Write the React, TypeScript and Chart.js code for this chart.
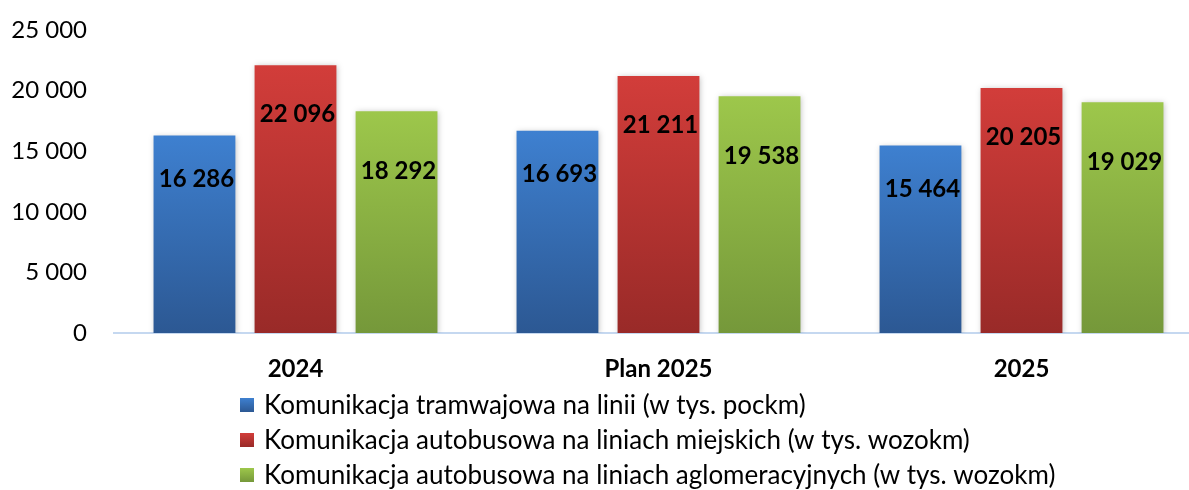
import React, { useEffect, useRef } from 'react';
import { Chart, registerables } from 'chart.js';

Chart.register(...registerables);

const categories = ['2024', 'Plan 2025', '2025'];
const seriesLabels = [
  'Komunikacja tramwajowa na linii (w tys. pockm)',
  'Komunikacja autobusowa na liniach miejskich (w tys. wozokm)',
  'Komunikacja autobusowa na liniach aglomeracyjnych (w tys. wozokm)',
];
const tramValues = [16286, 16693, 15464];
const busCityValues = [22096, 21211, 20205];
const busAggloValues = [18292, 19538, 19029];
const yTickValues = [0, 5000, 10000, 15000, 20000, 25000];

const gradTop = ['#3e80d0', '#d23d3a', '#9dc74b'];
const gradBottom = ['#2c5893', '#992a28', '#75983a'];
const labelOffsets = [44, 49, 60];

const FONT = 'Lato, "Open Sans", sans-serif';

const fmt = (n: number) => String(n).replace(/\B(?=(\d{3})+(?!\d))/g, ' ');

const legendPlugin = {
  id: 'customLegend',
  afterDraw(chart: any) {
    const ctx = chart.ctx;
    const x0 = 240;
    const rows = [405, 440, 475];
    ctx.save();
    ctx.font = `26px ${FONT}`;
    ctx.textBaseline = 'middle';
    ctx.textAlign = 'left';
    chart.data.datasets.forEach((ds: any, i: number) => {
      const y = rows[i];
      const g = ctx.createLinearGradient(0, y - 7, 0, y + 7);
      g.addColorStop(0, gradTop[i]);
      g.addColorStop(1, gradBottom[i]);
      ctx.fillStyle = g;
      ctx.fillRect(x0, y - 7, 14, 14);
      ctx.fillStyle = '#000';
      ctx.fillText(ds.label, x0 + 24, y + 1);
    });
    ctx.restore();
  },
};

const shadowPlugin = {
  id: 'barShadow',
  beforeDatasetsDraw(chart: any) {
    const ctx = chart.ctx;
    ctx.save();
    ctx.shadowColor = 'rgba(0,0,0,0.25)';
    ctx.shadowBlur = 6;
    ctx.shadowOffsetX = 1;
    ctx.shadowOffsetY = 1;
  },
  afterDatasetsDraw(chart: any) {
    chart.ctx.restore();
  },
};

const valueLabelPlugin = {
  id: 'valueLabels',
  afterDatasetsDraw(chart: any) {
    const ctx = chart.ctx;
    ctx.save();
    ctx.font = `bold 24px ${FONT}`;
    ctx.textAlign = 'center';
    ctx.textBaseline = 'middle';
    ctx.fillStyle = '#000';
    chart.data.datasets.forEach((ds: any, di: number) => {
      const meta = chart.getDatasetMeta(di);
      meta.data.forEach((el: any, i: number) => {
        ctx.fillText(fmt(ds.data[i]), el.x + 2, el.y + labelOffsets[di]);
      });
    });
    ctx.restore();
  },
};

function makeGradient(di: number) {
  return (c: any) => {
    const chart = c.chart;
    const ys = chart.scales && chart.scales.y;
    if (!ys || c.raw == null) return gradTop[di];
    const top = ys.getPixelForValue(c.raw);
    const bottom = ys.getPixelForValue(0);
    if (!isFinite(top) || !isFinite(bottom) || top === bottom) return gradTop[di];
    const g = chart.ctx.createLinearGradient(0, top, 0, bottom);
    g.addColorStop(0, gradTop[di]);
    g.addColorStop(1, gradBottom[di]);
    return g;
  };
}

export default function App() {
  const ref = useRef<HTMLCanvasElement>(null);
  useEffect(() => {
    document.body.style.margin = '0';
    const allSeries = [tramValues, busCityValues, busAggloValues];
    const chart = new Chart(ref.current!, {
      type: 'bar',
      data: {
        labels: categories,
        datasets: allSeries.map((vals, i) => ({
          label: seriesLabels[i],
          data: vals,
          backgroundColor: makeGradient(i),
          borderWidth: 0,
          categoryPercentage: 0.835,
          barPercentage: 0.81,
        })),
      },
      options: {
        responsive: false,
        animation: false,
        devicePixelRatio: 1,
        layout: { padding: { top: 30, left: 0, right: 0, bottom: 0 } },
        plugins: {
          legend: { display: false },
          tooltip: { enabled: false },
          title: { display: false },
        },
        scales: {
          x: {
            grid: { display: false, drawTicks: false },
            border: { display: true, color: '#c5d8f0', width: 2 },
            ticks: {
              color: '#000',
              font: { family: FONT, size: 24, weight: 'bold' },
              padding: 22,
            },
            afterFit: (s: any) => {
              s.height = 157;
            },
          },
          y: {
            min: 0,
            max: 25000,
            grid: { display: false, drawTicks: false },
            border: { display: false },
            afterBuildTicks: (s: any) => {
              s.ticks = yTickValues.map((v) => ({ value: v }));
            },
            ticks: {
              color: '#000',
              font: { family: FONT, size: 24 },
              padding: 27,
              callback: (v: any) => fmt(Number(v)),
            },
            afterFit: (s: any) => {
              s.width = 114;
              s.paddingTop = 14;
              s.paddingBottom = 0;
            },
          },
        },
      },
      plugins: [shadowPlugin, valueLabelPlugin, legendPlugin],
    });
    return () => chart.destroy();
  }, []);
  return (
    <div style={{ position: 'absolute', left: 0, top: 0, width: 1189, height: 490, overflow: 'hidden', background: '#fff' }}>
      <canvas ref={ref} width={1203} height={490} style={{ display: 'block' }} />
    </div>
  );
}
